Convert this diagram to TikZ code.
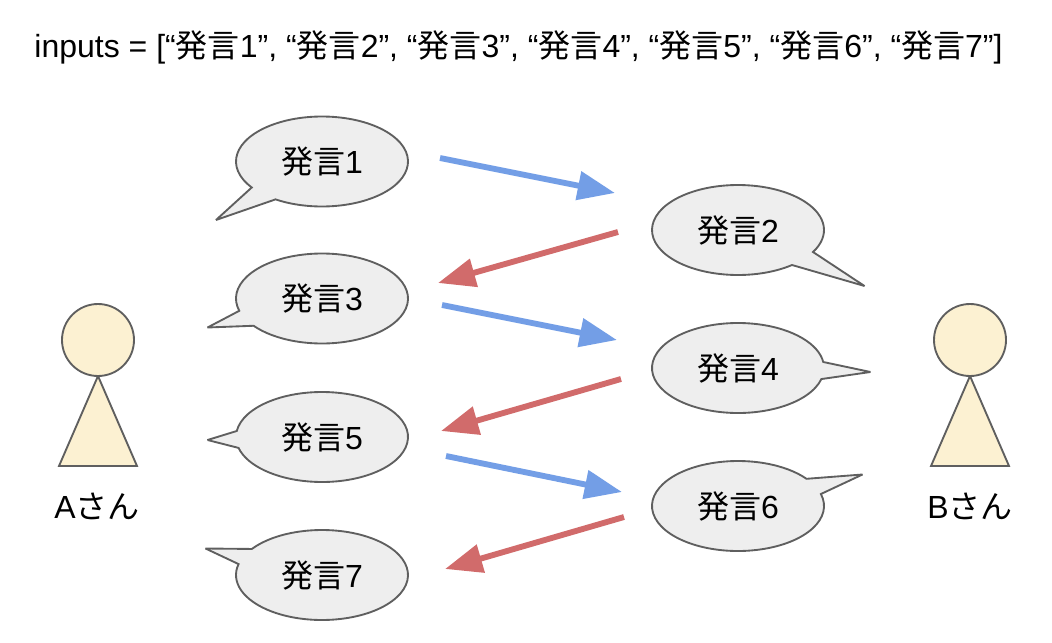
\documentclass[tikz,border=0pt]{standalone}
\usepackage{fontspec}
\setmainfont{Liberation Sans}
\newfontfamily\cjk{Noto Sans CJK JP}
\usetikzlibrary{arrows.meta}
\definecolor{bubblefill}{HTML}{EEEEEE}
\definecolor{outlinec}{HTML}{5F5F5F}
\definecolor{personfill}{HTML}{FCF1D2}
\definecolor{bluec}{HTML}{739EE6}
\definecolor{redc}{HTML}{D16B6B}
\newcommand{\hatsugen}[1]{{\cjk 発言}#1}
\newcommand{\bubbleshape}[8]{% cx cy x1 y1 tipx tipy x2 y2
  \pgfmathsetmacro{\angA}{atan2((#4-#2)/45,(#3-#1)/86)}
  \pgfmathsetmacro{\angB}{atan2((#8-#2)/45,(#7-#1)/86)}
  \pgfmathsetmacro{\angB}{\angB<\angA ? \angB+360 : \angB}
  \draw[bubble] ({#1+86*cos(\angA)},{#2+45*sin(\angA)})
     arc[start angle=\angA,end angle=\angB,x radius=86,y radius=45]
     -- (#5,#6) -- cycle;
}
\tikzset{
  bubble/.style={draw=outlinec,fill=bubblefill,line width=1.4pt,line join=miter,miter limit=3},
  person/.style={draw=outlinec,fill=personfill,line width=1.4pt},
  bubbletext/.style={font=\fontsize{24}{28}\selectfont,anchor=base,inner sep=0pt,text=black},
  nametext/.style={font=\fontsize{24}{28}\selectfont,anchor=base,inner sep=0pt,text=black},
  titletext/.style={font=\fontsize{24}{28}\selectfont,anchor=base,inner sep=0pt,text=black},
  bluearrow/.style={draw=bluec,line width=4.4pt,-{Triangle[length=28pt,width=21pt,fill=bluec]}},
  redarrow/.style={draw=redc,line width=4.4pt,-{Triangle[length=28pt,width=21pt,fill=redc]}},
}
\begin{document}
\begin{tikzpicture}[x=0.75pt,y=-0.75pt]
\useasboundingbox (0,0) rectangle (1052,642);
\node[titletext] (title) at (518.5,58) {inputs = [“\hatsugen{1}”, “\hatsugen{2}”, “\hatsugen{3}”, “\hatsugen{4}”, “\hatsugen{5}”, “\hatsugen{6}”, “\hatsugen{7}”]};

% bubbles
\bubbleshape{322}{161.5}{253}{187}{216}{220}{276}{199}
\bubbleshape{322}{298.5}{238}{311}{207.5}{327.5}{253}{326}
\bubbleshape{322}{437}{237}{431}{207.5}{440}{238}{448}
\bubbleshape{322}{575}{252}{549}{205.5}{548.5}{238}{564}
\bubbleshape{738}{230}{792}{265}{864.5}{286}{813}{252}
\bubbleshape{738}{368}{821}{379}{870.5}{372}{823}{362}
\bubbleshape{738}{506}{821}{494}{862.5}{474.5}{806}{479}

\node[bubbletext] (b1) at (322,173) {\hatsugen{1}};
\node[bubbletext] (b3) at (322,310) {\hatsugen{3}};
\node[bubbletext] (b5) at (322,449) {\hatsugen{5}};
\node[bubbletext] (b7) at (322,587) {\hatsugen{7}};
\node[bubbletext] (b2) at (738,242) {\hatsugen{2}};
\node[bubbletext] (b4) at (738,380) {\hatsugen{4}};
\node[bubbletext] (b6) at (738,518) {\hatsugen{6}};

% people
\draw[person] (59,466) -- (98,376) -- (137,466) -- cycle;
\draw[person] (98,340) circle[radius=36];
\draw[person] (931,466) -- (970,376) -- (1009,466) -- cycle;
\draw[person] (970,340) circle[radius=36];
\node[nametext] (a) at (97,518) {A{\cjk さん}};
\node[nametext] (bb) at (970,518) {B{\cjk さん}};

% arrows
\coordinate (s1) at (440,158); \coordinate (t1) at (615,193);
\coordinate (s2) at (618,232); \coordinate (t2) at (438,283);
\coordinate (s3) at (442,305); \coordinate (t3) at (617,340);
\coordinate (s4) at (621,379); \coordinate (t4) at (441,431);
\coordinate (s5) at (446,456); \coordinate (t5) at (622,492);
\coordinate (s6) at (624,517); \coordinate (t6) at (445,569);
\draw[bluearrow] (s1) -- (t1);
\draw[redarrow] (s2) -- (t2);
\draw[bluearrow] (s3) -- (t3);
\draw[redarrow] (s4) -- (t4);
\draw[bluearrow] (s5) -- (t5);
\draw[redarrow] (s6) -- (t6);
\end{tikzpicture}
\end{document}
